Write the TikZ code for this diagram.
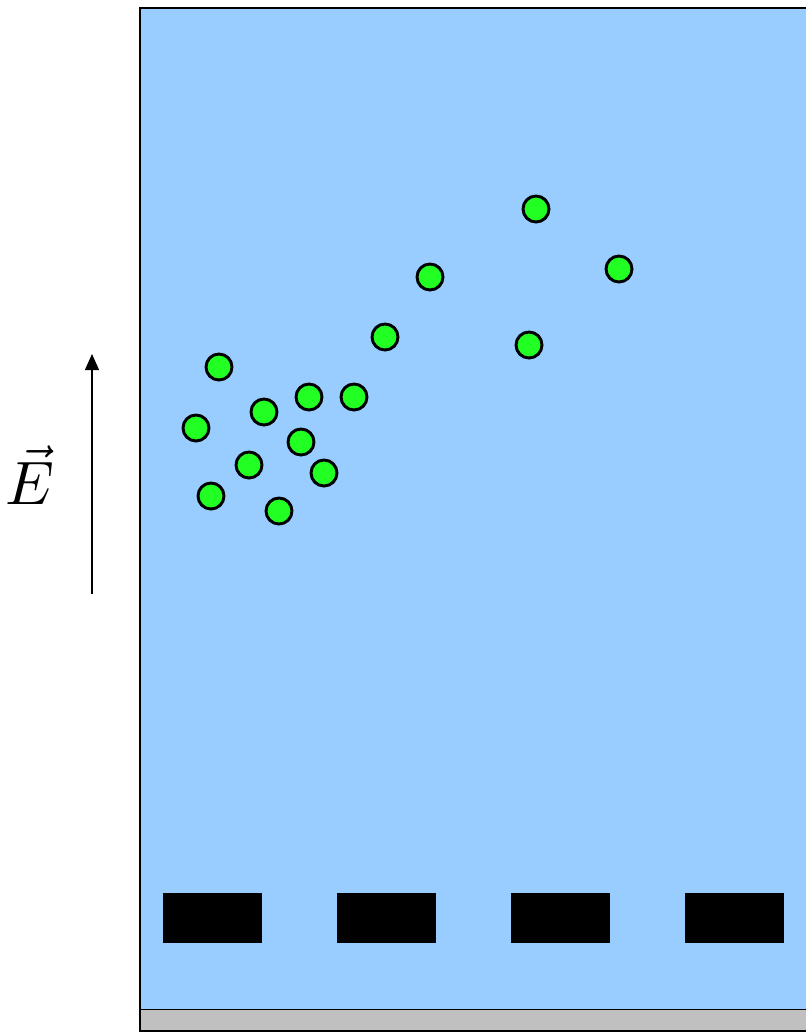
\documentclass[tikz,border=0pt]{standalone}
\usetikzlibrary{arrows.meta}
\definecolor{water}{HTML}{99CCFF}
\definecolor{ion}{HTML}{22FF22}
\definecolor{base}{HTML}{C0C0C0}
\tikzset{
  ion/.style={circle,draw=black,fill=ion,line width=2.2pt,minimum size=19.5pt,inner sep=0pt},
  plate/.style={rectangle,fill=black,draw=black,line width=0.3pt,minimum width=73.5pt,minimum height=36.75pt,inner sep=0pt},
}
\begin{document}
\begin{tikzpicture}[x=0.75pt,y=-0.75pt]
\useasboundingbox (0,0) rectangle (806,1032);
\fill[water] (140,8) rectangle (806,1010);
\draw[line width=1.2pt] (806,8) -- (140,8) -- (140,1010) -- (806,1010);
\fill[base] (140,1010) rectangle (806,1032);
\draw[line width=1.2pt] (140,1032) -- (140,1010);
\draw[line width=1.5pt] (140,1031) -- (806,1031);
\foreach \n/\x/\y in {1/536/209,2/619/269,3/430/277,4/385/337,5/529/345,6/219/367,7/309/397,8/354/397,9/264/412,10/196/428,11/301/442,12/249/465,13/324/473,14/211/496,15/279/511}
  \node[ion] (c\n) at (\x,\y) {};
\foreach \n/\x in {1/212,2/386,3/560,4/734}
  \node[plate] (p\n) at (\x,917.5) {};
\coordinate (a0) at (92,594);
\coordinate (a1) at (92,354);
\draw[line width=0.9pt,-{Triangle[length=12pt,width=10.5pt]}] (a0) -- (a1);
\node[inner sep=0pt,scale=4.6] (E) at (30,475) {$\vec{E}$};
\end{tikzpicture}
\end{document}
